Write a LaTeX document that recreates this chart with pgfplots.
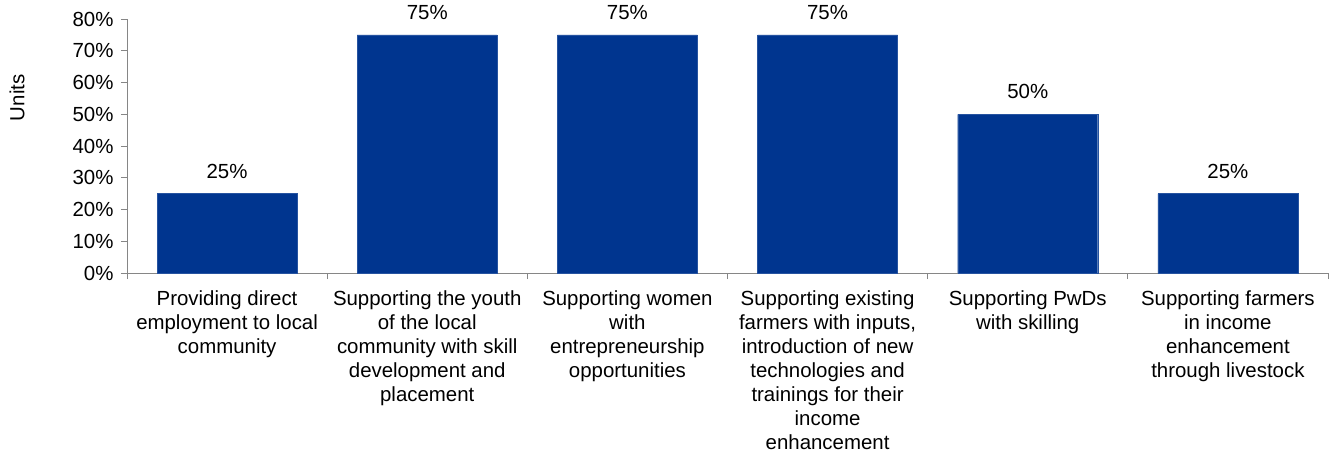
\documentclass[border=0pt]{standalone}
\usepackage{pgfplots}
\pgfplotsset{compat=1.18}
\usepackage{fontspec}
\setmainfont{Liberation Sans}
\definecolor{barblue}{RGB}{0,53,143}
\definecolor{axgray}{RGB}{134,134,134}
\newcommand{\chartfont}{\fontsize{20.5}{24.2}\selectfont}
\begin{document}
\begin{tikzpicture}
\path[use as bounding box] (-127bp,-185bp) rectangle (1209bp,273bp);
\begin{axis}[
  at={(0,0)}, anchor=south west,
  scale only axis,
  width=1201bp, height=254bp,
  xmin=-0.5, xmax=5.5,
  ymin=0, ymax=80,
  /pgf/number format/assume math mode=true,
  axis x line*=bottom,
  axis y line*=left,
  axis line style={draw=axgray, line width=0.8pt},
  every tick/.style={draw=axgray, line width=0.8pt},
  tick align=outside,
  major tick length=6bp,
  minor tick length=6bp,
  ytick={0,10,...,80},
  yticklabel={\pgfmathprintnumber{\tick}\%},
  y tick label style={font=\chartfont, xshift=-4bp},
  xtick={0,1,2,3,4,5},
  major x tick style={draw=none},
  minor xtick={-0.5,0.5,1.5,2.5,3.5,4.5,5.5},
  xticklabels={
    {Providing direct\\employment to local\\community},
    {Supporting the youth\\of the local\\community with skill\\development and\\placement},
    {Supporting women\\with\\entrepreneurship\\opportunities},
    {Supporting existing\\farmers with inputs,\\introduction of new\\technologies and\\trainings for their\\income\\enhancement},
    {Supporting PwDs\\with skilling},
    {Supporting farmers\\in income\\enhancement\\through livestock}
  },
  x tick label style={font=\chartfont, align=center, yshift=-8bp},
  ylabel={Units},
  every axis y label/.style={at={(axis description cs:-0.0916,0.69)}, rotate=90, anchor=center, font=\chartfont},
  ybar,
  bar width=140bp,
  nodes near coords={\pgfmathprintnumber{\pgfplotspointmeta}\%},
  every node near coord/.append style={font=\chartfont, anchor=base, yshift=15.5bp, text=black},
]
\addplot[fill=barblue, draw=barblue!85!white] coordinates {
  (0,25) (1,75) (2,75) (3,75) (4,50) (5,25)
};
\end{axis}
\end{tikzpicture}
\end{document}
